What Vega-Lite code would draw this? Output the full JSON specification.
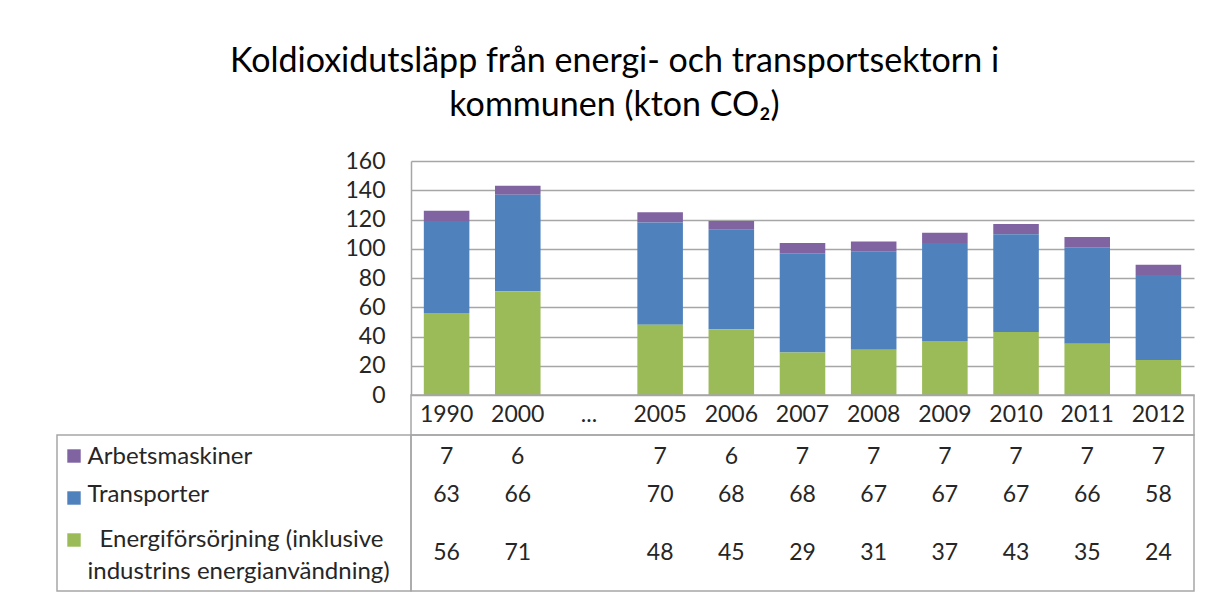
{
  "$schema": "https://vega.github.io/schema/vega-lite/v6.json",
  "padding": {"left": 56, "top": 45, "right": 20, "bottom": 4},
  "title": {
    "text": ["Koldioxidutsläpp från energi- och transportsektorn i", "kommunen (kton CO₂)"],
    "font": "Lato", "fontSize": 34, "fontWeight": "normal", "lineHeight": 44,
    "color": "#000000", "anchor": "middle", "offset": 27, "dx": -11
  },
  "datasets": {
    "utslapp": [
      {"ar": "1990", "serie": "Arbetsmaskiner", "varde": 7, "rad": 1},
      {"ar": "1990", "serie": "Transporter", "varde": 63, "rad": 2},
      {"ar": "1990", "serie": "Energiförsörjning (inklusive industrins energianvändning)", "varde": 56, "rad": 3},
      {"ar": "2000", "serie": "Arbetsmaskiner", "varde": 6, "rad": 1},
      {"ar": "2000", "serie": "Transporter", "varde": 66, "rad": 2},
      {"ar": "2000", "serie": "Energiförsörjning (inklusive industrins energianvändning)", "varde": 71, "rad": 3},
      {"ar": "2005", "serie": "Arbetsmaskiner", "varde": 7, "rad": 1},
      {"ar": "2005", "serie": "Transporter", "varde": 70, "rad": 2},
      {"ar": "2005", "serie": "Energiförsörjning (inklusive industrins energianvändning)", "varde": 48, "rad": 3},
      {"ar": "2006", "serie": "Arbetsmaskiner", "varde": 6, "rad": 1},
      {"ar": "2006", "serie": "Transporter", "varde": 68, "rad": 2},
      {"ar": "2006", "serie": "Energiförsörjning (inklusive industrins energianvändning)", "varde": 45, "rad": 3},
      {"ar": "2007", "serie": "Arbetsmaskiner", "varde": 7, "rad": 1},
      {"ar": "2007", "serie": "Transporter", "varde": 68, "rad": 2},
      {"ar": "2007", "serie": "Energiförsörjning (inklusive industrins energianvändning)", "varde": 29, "rad": 3},
      {"ar": "2008", "serie": "Arbetsmaskiner", "varde": 7, "rad": 1},
      {"ar": "2008", "serie": "Transporter", "varde": 67, "rad": 2},
      {"ar": "2008", "serie": "Energiförsörjning (inklusive industrins energianvändning)", "varde": 31, "rad": 3},
      {"ar": "2009", "serie": "Arbetsmaskiner", "varde": 7, "rad": 1},
      {"ar": "2009", "serie": "Transporter", "varde": 67, "rad": 2},
      {"ar": "2009", "serie": "Energiförsörjning (inklusive industrins energianvändning)", "varde": 37, "rad": 3},
      {"ar": "2010", "serie": "Arbetsmaskiner", "varde": 7, "rad": 1},
      {"ar": "2010", "serie": "Transporter", "varde": 67, "rad": 2},
      {"ar": "2010", "serie": "Energiförsörjning (inklusive industrins energianvändning)", "varde": 43, "rad": 3},
      {"ar": "2011", "serie": "Arbetsmaskiner", "varde": 7, "rad": 1},
      {"ar": "2011", "serie": "Transporter", "varde": 66, "rad": 2},
      {"ar": "2011", "serie": "Energiförsörjning (inklusive industrins energianvändning)", "varde": 35, "rad": 3},
      {"ar": "2012", "serie": "Arbetsmaskiner", "varde": 7, "rad": 1},
      {"ar": "2012", "serie": "Transporter", "varde": 58, "rad": 2},
      {"ar": "2012", "serie": "Energiförsörjning (inklusive industrins energianvändning)", "varde": 24, "rad": 3}
    ],
    "kategorier": [
      {"ar": "1990"}, {"ar": "2000"}, {"ar": "..."}, {"ar": "2005"}, {"ar": "2006"}, {"ar": "2007"},
      {"ar": "2008"}, {"ar": "2009"}, {"ar": "2010"}, {"ar": "2011"}, {"ar": "2012"}
    ]
  },
  "columns": 2,
  "spacing": 0,
  "bounds": "flush",
  "concat": [
    {
      "width": 354, "height": 234,
      "data": {"values": []},
      "mark": "point",
      "view": {"stroke": null}
    },
    {
      "width": 783, "height": 234,
      "data": {"name": "utslapp"},
      "mark": {"type": "bar"},
      "encoding": {
        "x": {
          "field": "ar", "type": "nominal",
          "scale": {"domain": ["1990", "2000", "...", "2005", "2006", "2007", "2008", "2009", "2010", "2011", "2012"], "paddingInner": 0.36, "paddingOuter": 0.18},
          "axis": null
        },
        "y": {
          "field": "varde", "type": "quantitative", "stack": "zero",
          "scale": {"domain": [0, 160], "nice": false},
          "axis": {
            "values": [0, 20, 40, 60, 80, 100, 120, 140, 160],
            "title": null, "grid": true, "gridColor": "#a6a6a6", "gridWidth": 1.5,
            "domain": true, "domainColor": "#a6a6a6", "domainWidth": 1.5,
            "ticks": false, "tickSize": 0, "labelPadding": 26,
            "labelFont": "Lato", "labelFontSize": 23, "labelColor": "#262626"
          }
        },
        "color": {
          "field": "serie", "type": "nominal",
          "scale": {
            "domain": ["Arbetsmaskiner", "Transporter", "Energiförsörjning (inklusive industrins energianvändning)"],
            "range": ["#8064A2", "#4F81BD", "#9BBB59"]
          },
          "legend": {
            "orient": "none", "legendX": 7, "legendY": 285, "direction": "vertical",
            "title": null, "symbolType": "square", "symbolSize": 180, "symbolStrokeWidth": 0,
            "symbolOpacity": 1, "labelExpr": "''", "labelFontSize": 20, "rowPadding": 22, "padding": 0
          }
        },
        "order": {"field": "rad", "sort": "descending"}
      },
      "view": {"stroke": null}
    },
    {
      "width": 354, "height": 40,
      "data": {"values": []},
      "mark": "point",
      "view": {"stroke": null}
    },
    {
      "width": 783, "height": 40,
      "data": {"name": "kategorier"},
      "mark": {"type": "text", "font": "Lato", "fontSize": 23, "color": "#262626"},
      "encoding": {
        "x": {
          "field": "ar", "type": "nominal",
          "scale": {"domain": ["1990", "2000", "...", "2005", "2006", "2007", "2008", "2009", "2010", "2011", "2012"], "type": "band", "paddingInner": 0.36, "paddingOuter": 0.18},
          "axis": null
        },
        "text": {"field": "ar"}
      },
      "view": {"stroke": "#a6a6a6", "strokeWidth": 1.5}
    },
    {
      "width": 354, "height": 156,
      "data": {"name": "utslapp"},
      "mark": {"type": "text", "opacity": 0},
      "encoding": {
        "y": {
          "field": "serie", "type": "nominal",
          "scale": {"type": "band", "domain": ["Arbetsmaskiner", "Transporter", "Energiförsörjning (inklusive industrins energianvändning)", "_rad2"], "paddingInner": 0, "paddingOuter": 0.03, "align": 1},
          "axis": {
            "orient": "left", "title": null, "domain": false, "ticks": false, "tickSize": 0, "grid": false,
            "labelAlign": "left", "labelBaseline": "middle", "labelLimit": 0, "labelOverlap": false,
            "labelFont": "Lato", "labelFontSize": 24, "labelColor": "#262626",
            "labelPadding": {"condition": {"test": "datum.value == 'Energiförsörjning (inklusive industrins energianvändning)'", "value": -42}, "value": -30},
            "labelOffset": {"condition": {"test": "datum.value == 'Energiförsörjning (inklusive industrins energianvändning)'", "value": 7}, "value": 0},
            "labelExpr": "datum.value == 'Energiförsörjning (inklusive industrins energianvändning)' ? 'Energiförsörjning (inklusive' : (datum.value == '_rad2' ? 'industrins energianvändning)' : datum.label)"
          }
        },
        "text": {"value": ""}
      },
      "view": {"stroke": "#a6a6a6", "strokeWidth": 1.5}
    },
    {
      "width": 783, "height": 156,
      "data": {"name": "utslapp"},
      "encoding": {
        "x": {
          "field": "ar", "type": "nominal",
          "scale": {"domain": ["1990", "2000", "...", "2005", "2006", "2007", "2008", "2009", "2010", "2011", "2012"], "type": "band", "paddingInner": 0.36, "paddingOuter": 0.18},
          "axis": null
        },
        "text": {"field": "varde", "type": "quantitative", "format": "d"}
      },
      "layer": [
        {
          "transform": [{"filter": "datum.rad != 3"}],
          "mark": {"type": "text", "font": "Lato", "fontSize": 23, "color": "#262626"},
          "encoding": {
            "y": {
              "field": "serie", "type": "nominal",
              "scale": {"type": "band", "domain": ["Arbetsmaskiner", "Transporter", "Energiförsörjning (inklusive industrins energianvändning)", "_rad2"], "paddingInner": 0, "paddingOuter": 0.03, "align": 1},
              "axis": null
            }
          }
        },
        {
          "transform": [{"filter": "datum.rad == 3"}],
          "mark": {"type": "text", "font": "Lato", "fontSize": 23, "color": "#262626"},
          "encoding": {
            "y": {
              "field": "serie", "type": "nominal", "bandPosition": 1,
              "scale": {"type": "band", "domain": ["Arbetsmaskiner", "Transporter", "Energiförsörjning (inklusive industrins energianvändning)", "_rad2"], "paddingInner": 0, "paddingOuter": 0.03, "align": 1},
              "axis": null
            }
          }
        }
      ],
      "view": {"stroke": "#a6a6a6", "strokeWidth": 1.5}
    }
  ],
  "config": {
    "font": "Lato",
    "view": {"stroke": null},
    "axis": {"labelFont": "Lato"},
    "legend": {"labelFont": "Lato"}
  }
}
